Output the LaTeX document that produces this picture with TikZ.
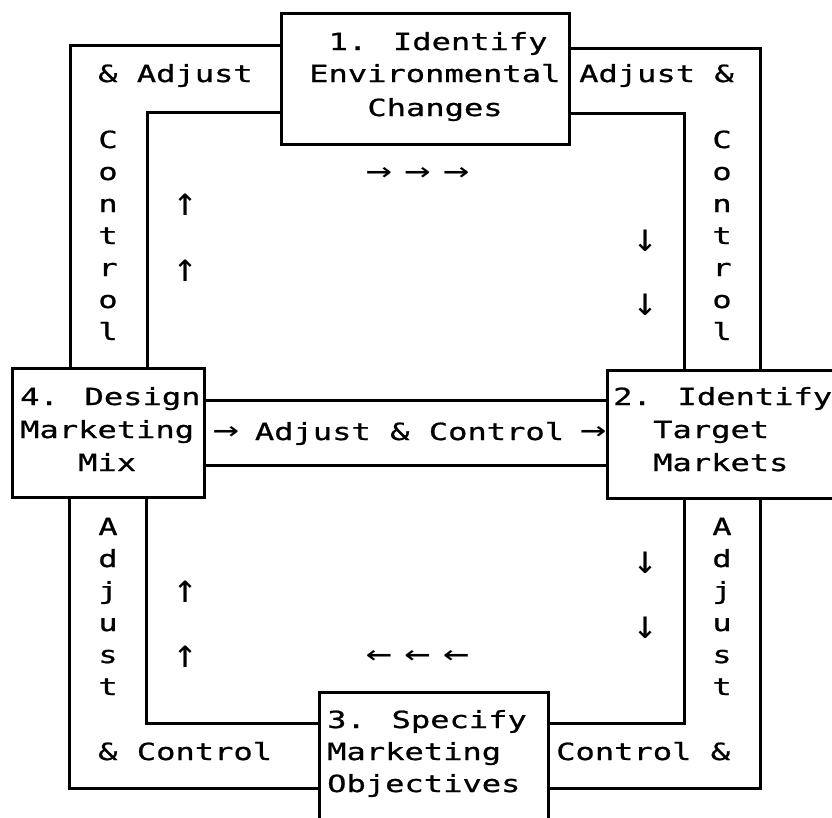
\documentclass[tikz,border=0pt]{standalone}
\usepackage{fontspec}
\newfontfamily\mono[FakeStretch=1.36,FakeBold=0.8]{DejaVu Sans Mono}
\newfontfamily\monoar[FakeStretch=1.36]{DejaVu Sans Mono}
\newfontfamily\monoplain{DejaVu Sans Mono}
\newcommand\harr[1]{\makebox[19.4pt][c]{\monoar\fontsize{32pt}{33pt}\selectfont #1}}
\begin{document}
\begin{tikzpicture}[x=1pt,y=-1pt,
  ln/.style={line width=3pt,line cap=rect},
  box/.style={draw,line width=3pt,rectangle,inner sep=0pt},
  txt/.style={font=\mono\fontsize{23.6pt}{33pt}\selectfont,anchor=base west,inner sep=0pt},
  vch/.style={font=\mono\fontsize{23.6pt}{33pt}\selectfont,anchor=base,inner sep=0pt},
  arr/.style={font=\monoplain\fontsize{40pt}{40pt}\selectfont,anchor=center,inner sep=0pt},
  arrw/.style={font=\mono\fontsize{23.6pt}{33pt}\selectfont,anchor=west,inner sep=0pt}]
\useasboundingbox (0,0) rectangle (832,817);
\clip (0,0) rectangle (832,817);
\fill[white] (0,0) rectangle (832,817);
% boxes
\node[box,minimum width=288pt,minimum height=131pt] (b1) at (425,78.5) {};
\node[box,minimum width=192pt,minimum height=129pt] (b4) at (108,432.5) {};
\node[box,minimum width=253pt,minimum height=128pt] (b2) at (733.5,434) {};
\node[box,minimum width=229pt,minimum height=148pt] (b3) at (433.5,766) {};
% channels
\draw[ln] (b1.west |- 0,45) -| (70,0 |- b4.north);
\draw[ln] (b1.west |- 0,112) -| (147,0 |- b4.north);
\draw[ln] (b1.east |- 0,48) -| (760,0 |- b2.north);
\draw[ln] (b1.east |- 0,113) -| (684,0 |- b2.north);
\draw[ln] (b4.east |- 0,400) -- (b2.west |- 0,400);
\draw[ln] (b4.east |- 0,465) -- (b2.west |- 0,465);
\draw[ln] (69,0 |- b4.south) |- (b3.west |- 0,788);
\draw[ln] (146,0 |- b4.south) |- (b3.west |- 0,723);
\draw[ln] (684,0 |- b2.south) |- (b3.east |- 0,723);
\draw[ln] (760,0 |- b2.south) |- (b3.east |- 0,788);
% box texts
\node[txt] (t1a) at (328.4,50) {1. Identify};
\node[txt] (t1b) at (309,82) {Environmental};
\node[txt] (t1c) at (367.2,116) {Changes};
\node[txt] (t4a) at (20,405) {4. Design};
\node[txt] (t4b) at (20,438) {Marketing};
\node[txt] (t4c) at (78,471) {Mix};
\node[txt] (t2a) at (613,405) {2. Identify};
\node[txt] (t2b) at (653,438) {Target};
\node[txt] (t2c) at (653,471) {Markets};
\node[txt] (t3a) at (327,728) {3. Specify};
\node[txt] (t3b) at (327,760) {Marketing};
\node[txt] (t3c) at (327,792) {Objectives};
% channel texts
\node[txt] (ctl) at (98,82) {\& Adjust};
\node[txt] (ctr) at (579,82) {Adjust \&};
\node[txt] (cbl) at (98,760) {\& Control};
\node[txt] (cbr) at (556,760) {Control \&};
\node[txt] (cmid) at (216,440) {\harr{→} Adjust \& Control \harr{→}};
\foreach \ch [count=\i] in {C,o,n,t,r,o,l} {
  \node[vch] (vl\i) at (108,{148+32*(\i-1)}) {\ch};
  \node[vch] (vr\i) at (722,{148+32*(\i-1)}) {\ch};
}
\foreach \ch [count=\i] in {A,d,j,u,s,t} {
  \node[vch] (wl\i) at (108,{535+32*(\i-1)}) {\ch};
  \node[vch] (wr\i) at (722,{535+32*(\i-1)}) {\ch};
}
% flow arrows
\node[arrw] (ftop) at (369,175) {\harr{→} \harr{→} \harr{→}};
\node[arrw] (fbot) at (369,658) {\harr{←} \harr{←} \harr{←}};
\node[arr] (ul1) at (186,205) {↑};
\node[arr] (ul2) at (186,271) {↑};
\node[arr] (ul3) at (186,592) {↑};
\node[arr] (ul4) at (186,657) {↑};
\node[arr] (dr1) at (646,241) {↓};
\node[arr] (dr2) at (646,305) {↓};
\node[arr] (dr3) at (646,563) {↓};
\node[arr] (dr4) at (646,628) {↓};
\end{tikzpicture}
\end{document}
